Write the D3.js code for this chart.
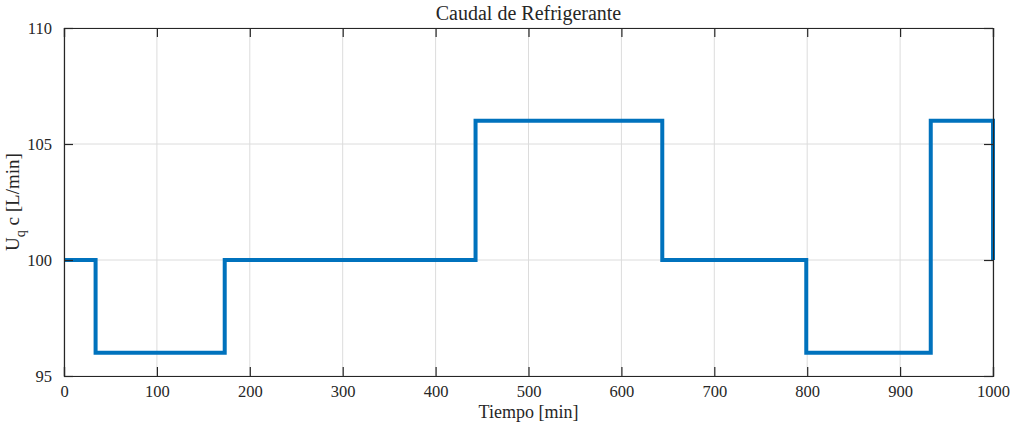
<!DOCTYPE html>
<html>
<head>
<meta charset="utf-8">
<script src="https://cdn.jsdelivr.net/npm/d3@7"></script>
</head>
<body style="margin:0;background:#fff">
<svg id="chart" width="1011" height="423"></svg>
<script>
// Coolant flow setpoint over time (step changes)
const times  = [0, 34, 173, 443, 644, 799, 933, 1000];
const values = [100, 96, 100, 106, 100, 96, 106, 100];
const xTicks = [0, 100, 200, 300, 400, 500, 600, 700, 800, 900, 1000];
const yTicks = [95, 100, 105, 110];

const FONT = "Liberation Serif";
const svg = d3.select("#chart");
const m = { left: 64, right: 18, top: 28, bottom: 47 };
const W = 1011, H = 423;
const iw = W - m.left - m.right, ih = H - m.top - m.bottom;

const x = d3.scaleLinear().domain([0, 1000]).range([0, iw]);
const y = d3.scaleLinear().domain([95, 110]).range([ih, 0]);

const g = svg.append("g").attr("transform", `translate(${m.left},${m.top})`);

// grid
g.append("g").selectAll("line").data(xTicks).join("line")
  .attr("x1", d => x(d)).attr("x2", d => x(d)).attr("y1", 0).attr("y2", ih)
  .attr("stroke", "#dcdcdc").attr("stroke-width", 1);
g.append("g").selectAll("line").data(yTicks).join("line")
  .attr("y1", d => y(d)).attr("y2", d => y(d)).attr("x1", 0).attr("x2", iw)
  .attr("stroke", "#dcdcdc").attr("stroke-width", 1);

// step signal: hold each value until the next change time
const stepPts = [];
times.forEach((t, i) => {
  if (i > 0) stepPts.push([t, values[i - 1]]);
  stepPts.push([t, values[i]]);
});
g.append("path").datum(stepPts)
  .attr("d", d3.line().x(d => x(d[0])).y(d => y(d[1])))
  .attr("fill", "none").attr("stroke", "#0072BD").attr("stroke-width", 4)
  .attr("stroke-linejoin", "miter");

// axes (ticks inward, box on all sides)
const axColor = "#262626";
const tickLen = 9;

const xb = g.append("g").attr("transform", `translate(0,${ih})`)
  .call(d3.axisBottom(x).tickValues(xTicks).tickSize(-tickLen).tickPadding(tickLen).tickFormat(d3.format("d")));
const xt = g.append("g")
  .call(d3.axisTop(x).tickValues(xTicks).tickSize(-tickLen).tickFormat(""));
const yl = g.append("g")
  .call(d3.axisLeft(y).tickValues(yTicks).tickSize(-tickLen).tickPadding(tickLen + 3).tickFormat(d3.format("d")));
const yr = g.append("g").attr("transform", `translate(${iw},0)`)
  .call(d3.axisRight(y).tickValues(yTicks).tickSize(-tickLen).tickFormat(""));

[xb, xt, yl, yr].forEach(a => {
  a.attr("font-family", FONT).attr("font-size", 16.5);
  a.select(".domain").attr("stroke", axColor).attr("stroke-width", 1.2);
  a.selectAll(".tick line").attr("stroke", axColor).attr("stroke-width", 1.2);
  a.selectAll("text").attr("fill", axColor).attr("font-family", FONT);
});

// title and axis labels
svg.append("text").attr("x", m.left + iw / 2).attr("y", 20)
  .attr("text-anchor", "middle").attr("fill", axColor)
  .attr("font-family", FONT).attr("font-size", 20).text("Caudal de Refrigerante");

svg.append("text").attr("x", m.left + iw / 2).attr("y", 418)
  .attr("text-anchor", "middle").attr("fill", axColor)
  .attr("font-family", FONT).attr("font-size", 18).text("Tiempo [min]");

const yt = svg.append("text")
  .attr("transform", `translate(19,${m.top + ih / 2}) rotate(-90)`)
  .attr("text-anchor", "middle").attr("fill", axColor)
  .attr("font-family", FONT).attr("font-size", 19);
yt.append("tspan").text("U");
yt.append("tspan").attr("dy", 6).attr("font-size", 14).text("q");
yt.append("tspan").attr("dy", -6).text(" c [L/min]");
</script>
</body>
</html>
